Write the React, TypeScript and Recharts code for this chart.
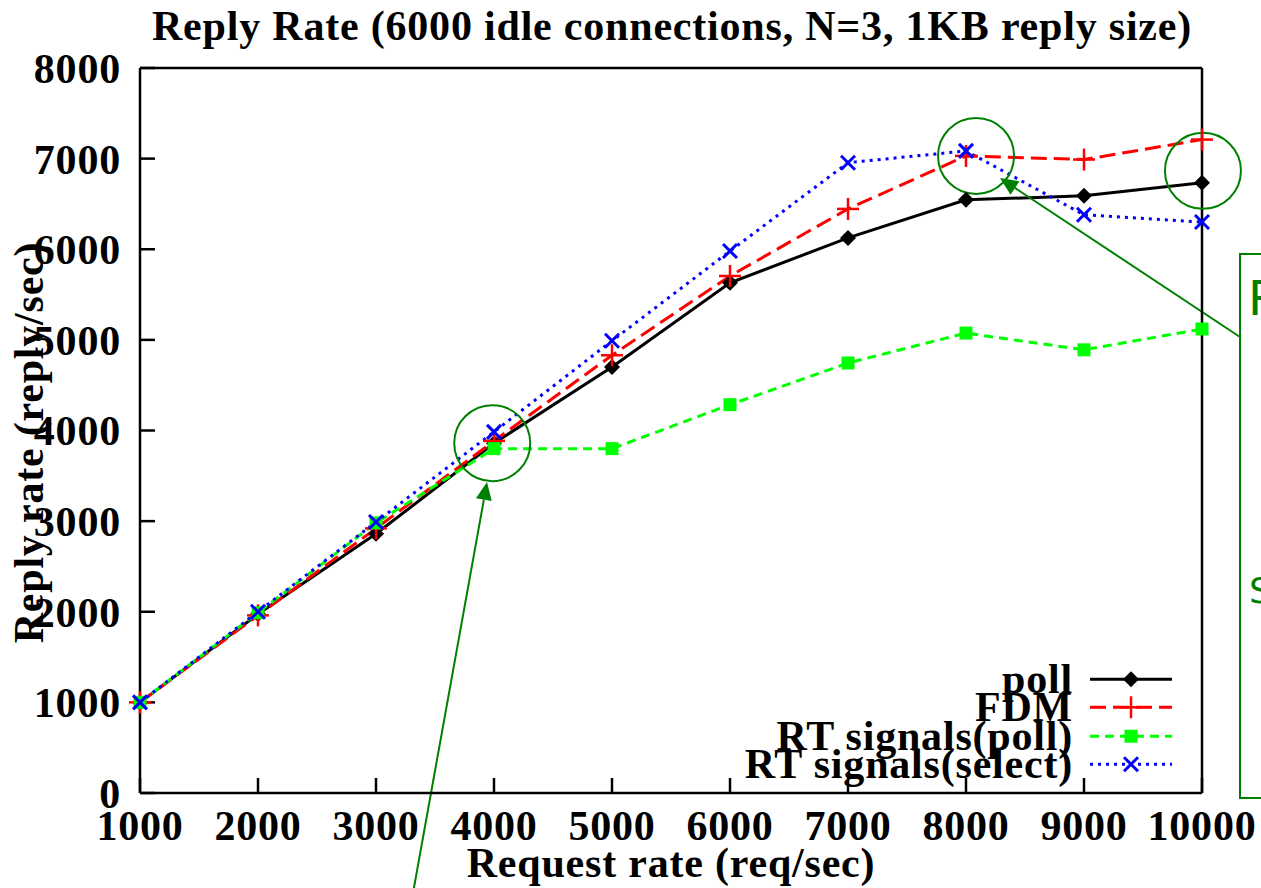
import React from 'react'
import { LineChart, Line, XAxis, YAxis, Legend, ReferenceDot, ReferenceLine } from 'recharts'

// request rates (req/sec)
const requestRates = [1000, 2000, 3000, 4000, 5000, 6000, 7000, 8000, 9000, 10000]

// reply rates (reply/sec)
const pollRates = [1000, 1975, 2860, 3860, 4700, 5630, 6125, 6545, 6590, 6735]
const fdmRates = [1000, 1960, 2920, 3885, 4830, 5705, 6445, 7030, 6990, 7210]
const rtPollRates = [1000, 1990, 2980, 3800, 3800, 4285, 4745, 5075, 4890, 5120]
const rtSelectRates = [1000, 2000, 2990, 3985, 4990, 5980, 6955, 7085, 6380, 6300]

const xTicks = [1000, 2000, 3000, 4000, 5000, 6000, 7000, 8000, 9000, 10000]
const yTicks = [0, 1000, 2000, 3000, 4000, 5000, 6000, 7000, 8000]

// annotation circles and arrows, in data units
const circles = [
  { x: 3985, y: 3860 },
  { x: 8085, y: 7030 },
  { x: 10008, y: 6865 },
]
const arrows = [
  { from: { x: 3314, y: -1100 }, to: { x: 3941, y: 3432 } },
  { from: { x: 10322, y: 5032 }, to: { x: 8288, y: 6786 } },
]

const data = requestRates.map((r, i) => ({
  rate: r,
  poll: pollRates[i],
  fdm: fdmRates[i],
  rtPoll: rtPollRates[i],
  rtSelect: rtSelectRates[i],
}))

const FONT = '"Liberation Serif", "Times New Roman", serif'
const ANNOT = '#008000'

const Diamond = ({ cx, cy }: any) => (
  <polygon points={`${cx},${cy - 8} ${cx + 8},${cy} ${cx},${cy + 8} ${cx - 8},${cy}`} fill="#000" />
)
const Plus = ({ cx, cy }: any) => (
  <g stroke="#ff0000" strokeWidth={2.5}>
    <line x1={cx - 11} y1={cy} x2={cx + 11} y2={cy} />
    <line x1={cx} y1={cy - 11} x2={cx} y2={cy + 11} />
  </g>
)
const Square = ({ cx, cy }: any) => <rect x={cx - 6.5} y={cy - 6.5} width={13} height={13} fill="#00ff00" />
const Cross = ({ cx, cy }: any) => (
  <g stroke="#0000ff" strokeWidth={3}>
    <line x1={cx - 7} y1={cy - 7} x2={cx + 7} y2={cy + 7} />
    <line x1={cx - 7} y1={cy + 7} x2={cx + 7} y2={cy - 7} />
  </g>
)

const series = [
  { key: 'poll', name: 'poll', color: '#000000', dash: undefined, Marker: Diamond },
  { key: 'fdm', name: 'FDM', color: '#ff0000', dash: '16 7', Marker: Plus },
  { key: 'rtPoll', name: 'RT signals(poll)', color: '#00ff00', dash: '9 6', Marker: Square },
  { key: 'rtSelect', name: 'RT signals(select)', color: '#0000ff', dash: '3 5', Marker: Cross },
]

const Arrow = (p: any) => {
  const { x1, y1, x2, y2 } = p
  const a = Math.atan2(y2 - y1, x2 - x1)
  const len = 18
  const w = 8
  const bx = x2 - len * Math.cos(a)
  const by = y2 - len * Math.sin(a)
  const pts = `${x2},${y2} ${bx + w * Math.sin(a)},${by - w * Math.cos(a)} ${bx - w * Math.sin(a)},${by + w * Math.cos(a)}`
  return (
    <g>
      <line x1={x1} y1={y1} x2={bx} y2={by} stroke={ANNOT} strokeWidth={2} />
      <polygon points={pts} fill={ANNOT} />
    </g>
  )
}

const textStyle = { fontSize: 42, fontWeight: 'bold', fontFamily: FONT, fill: '#000', letterSpacing: 0.8 }

const renderLegend = () => (
  <div style={{ fontFamily: FONT, fontWeight: 'bold', fontSize: 42, letterSpacing: 0.8, color: '#000' }}>
    {series.map(s => (
      <div key={s.key} style={{ display: 'flex', height: 28.5, alignItems: 'center' }}>
        <span style={{ width: 373, textAlign: 'right', lineHeight: '28.5px', whiteSpace: 'nowrap' }}>{s.name}</span>
        <svg width={100} height={28.5} style={{ marginLeft: 17, overflow: 'visible' }}>
          <line x1={0} y1={14.25} x2={82} y2={14.25} stroke={s.color} strokeWidth={3} strokeDasharray={s.dash} />
          <s.Marker cx={41} cy={14.25} />
        </svg>
      </div>
    ))}
  </div>
)

const axisLine = { stroke: '#000', strokeWidth: 2.5 }

export default function App() {
  return (
    <div style={{ position: 'absolute', left: 0, top: 0, width: 1261, height: 888, background: '#fff', fontFamily: FONT }}>
      <LineChart width={1261} height={888} data={data} margin={{ top: 67, right: 0, bottom: 0, left: 0 }}>
        <XAxis
          dataKey="rate"
          type="number"
          domain={[1000, 10000]}
          ticks={xTicks}
          interval={0}
          height={95}
          tick={textStyle}
          tickSize={-15}
          tickMargin={32}
          tickLine={axisLine}
          axisLine={axisLine}
          label={{ value: 'Request rate (req/sec)', position: 'insideBottom', offset: 11, style: textStyle }}
        />
        <XAxis
          xAxisId="top"
          orientation="top"
          dataKey="rate"
          type="number"
          domain={[1000, 10000]}
          ticks={xTicks}
          interval={0}
          height={1}
          tick={false}
          tickSize={-15}
          tickLine={axisLine}
          axisLine={axisLine}
        />
        <YAxis
          type="number"
          domain={[0, 8000]}
          ticks={yTicks}
          interval={0}
          width={140}
          tick={textStyle}
          tickSize={-15}
          tickMargin={34}
          tickLine={axisLine}
          axisLine={axisLine}
          label={{
            content: ({ viewBox }: any) => {
              const cy = viewBox.y + viewBox.height / 2 + 12
              return (
                <text
                  x={43}
                  y={cy}
                  transform={`rotate(-90, 43, ${cy})`}
                  textAnchor="middle"
                  style={textStyle}
                >
                  Reply rate (reply/sec)
                </text>
              )
            },
          }}
        />
        <YAxis
          yAxisId="right"
          orientation="right"
          type="number"
          domain={[0, 8000]}
          ticks={yTicks}
          interval={0}
          width={59}
          tick={false}
          tickSize={-15}
          tickLine={axisLine}
          axisLine={axisLine}
        />
        <Legend
          layout="vertical"
          align="center"
          verticalAlign="middle"
          content={renderLegend}
          wrapperStyle={{ position: 'absolute', left: 700, top: 664.75, width: 500 }}
        />
        {series.map(s => (
          <Line
            key={s.key}
            dataKey={s.key}
            name={s.name}
            type="linear"
            stroke={s.color}
            strokeWidth={3}
            strokeDasharray={s.dash}
            dot={(p: any) => <s.Marker key={`${s.key}-${p.index}`} cx={p.cx} cy={p.cy} />}
            activeDot={false}
            isAnimationActive={false}
          />
        ))}
        {circles.map((c, i) => (
          <ReferenceDot
            key={`c${i}`}
            x={c.x}
            y={c.y}
            r={38}
            fill="none"
            stroke={ANNOT}
            strokeWidth={2}
            ifOverflow="visible"
          />
        ))}
        {arrows.map((a, i) => (
          <ReferenceLine
            key={`a${i}`}
            segment={[a.from, a.to]}
            ifOverflow="visible"
            stroke={ANNOT}
            shape={Arrow}
          />
        ))}
      </LineChart>
      <svg width={1261} height={888} style={{ position: 'absolute', left: 0, top: 0, pointerEvents: 'none' }}>
        <text x={672} y={40} textAnchor="middle" style={textStyle}>
          Reply Rate (6000 idle connections, N=3, 1KB reply size)
        </text>
        <rect x={1240} y={254} width={60} height={544} fill="none" stroke={ANNOT} strokeWidth={2} />
        <text x={1248} y={315} fill={ANNOT} fontFamily='"DejaVu Sans", sans-serif' fontSize={48}>R</text>
        <text x={1249} y={603} fill={ANNOT} fontFamily='"DejaVu Sans", sans-serif' fontSize={36}>S</text>
      </svg>
    </div>
  )
}
